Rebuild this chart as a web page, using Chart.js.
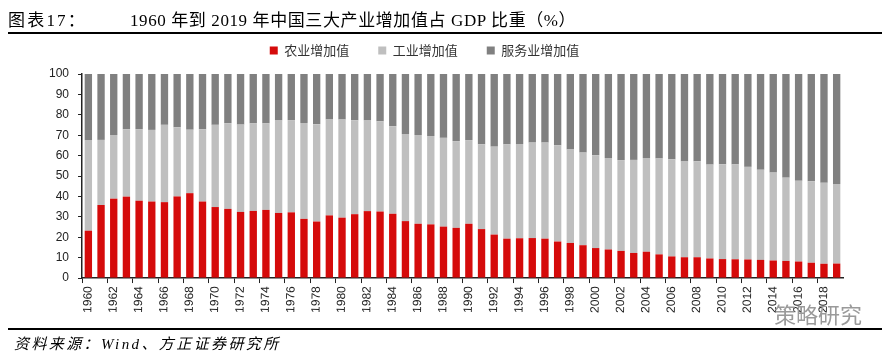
<!DOCTYPE html>
<html>
<head>
<meta charset="utf-8">
<script src="https://cdn.jsdelivr.net/npm/chart.js@4"></script>
<style>
  body { margin: 0; background: #fff; width: 893px; height: 351px; overflow: hidden; position: relative; }
  #wrap { position: absolute; left: 0; top: 0; width: 893px; height: 351px; }
  .title { position: absolute; top: 6px; left: 8px; font: 17px "Liberation Serif", "Noto Sans CJK SC", serif; color: #000; white-space: nowrap; }
  .title .lead { letter-spacing: 2.2px; }
  .title .main { position: absolute; left: 122px; letter-spacing: 0.6px; }
  .rule { position: absolute; left: 8px; width: 874px; height: 2px; background: #000; }
  .source { position: absolute; left: 14px; top: 332px; font: italic 15px "Liberation Serif", "Noto Sans CJK SC", serif; letter-spacing: 2.4px; color: #000; white-space: nowrap; }
  .mark { position: absolute; left: 774px; top: 297px; font: 22px "Noto Sans CJK SC", sans-serif; color: #9a9a9a; white-space: nowrap; }
</style>
</head>
<body>
<div id="wrap"><canvas id="shareChart" width="893" height="351"></canvas></div>
<div class="title"><span class="lead">图表17：</span><span class="main">1960 年到 2019 年中国三大产业增加值占 GDP 比重（%）</span></div>
<div class="rule" style="top:32px"></div>
<div class="rule" style="top:328px"></div>
<div class="source">资料来源：Wind、方正证券研究所</div>
<div class="mark">策略研究</div>
<script>
// 📅 Years and shares (% of GDP)
const years = [];
for (let y = 1960; y <= 2019; y++) years.push(String(y));

const agriShare = [23.2, 35.8, 38.9, 39.9, 37.9, 37.5, 37.2, 40.0, 41.6, 37.5,
  34.8, 33.9, 32.4, 32.9, 33.4, 31.9, 32.2, 29.0, 27.7, 30.7,
  29.6, 31.3, 32.8, 32.6, 31.5, 27.9, 26.6, 26.3, 25.2, 24.6,
  26.6, 24.0, 21.3, 19.3, 19.5, 19.6, 19.3, 17.9, 17.2, 16.1,
  14.7, 14.0, 13.3, 12.3, 12.9, 11.6, 10.6, 10.2, 10.2, 9.6,
  9.3, 9.2, 9.1, 8.9, 8.6, 8.4, 8.1, 7.5, 7.0, 7.1];

const industryShare = [44.4, 31.9, 31.2, 33.0, 35.1, 35.1, 37.9, 33.9, 31.1, 35.4,
  40.3, 42.0, 42.8, 42.9, 42.4, 45.5, 45.2, 47.0, 47.7, 47.0,
  48.1, 46.0, 44.6, 44.2, 42.9, 42.7, 43.5, 43.3, 43.5, 42.5,
  41.0, 41.5, 43.1, 46.2, 46.2, 46.8, 47.1, 47.1, 45.8, 45.4,
  45.5, 44.8, 44.5, 45.6, 45.9, 47.0, 47.6, 46.9, 47.0, 46.0,
  46.5, 46.5, 45.4, 44.2, 43.1, 40.8, 39.6, 39.9, 39.7, 39.0];

const serviceShare = [32.4, 32.3, 29.9, 27.1, 27.0, 27.4, 24.9, 26.1, 27.3, 27.1,
  24.9, 24.1, 24.8, 24.2, 24.2, 22.6, 22.6, 24.0, 24.6, 22.3,
  22.3, 22.7, 22.6, 23.2, 25.6, 29.4, 29.9, 30.4, 31.3, 32.9,
  32.4, 34.5, 35.6, 34.5, 34.3, 33.6, 33.6, 35.0, 37.0, 38.5,
  39.8, 41.2, 42.2, 42.1, 41.2, 41.4, 41.8, 42.9, 42.8, 44.4,
  44.2, 44.3, 45.5, 46.9, 48.3, 50.8, 52.3, 52.6, 53.3, 53.9];

const yTicks = [0, 10, 20, 30, 40, 50, 60, 70, 80, 90, 100];


// 🧩 Legend: extra room below it, and nudged a bit left
const legendTweak = {
  id: "legendTweak",
  beforeInit(chart) {
    const fit = chart.legend.fit;
    chart.legend.fit = function () {
      fit.bind(chart.legend)();
      this.height += 7;
    };
  },
  afterLayout(chart) {
    chart.legend.left -= 17;
    chart.legend.right -= 17;
  }
};


// 📊 Stacked bar chart
const ctx = document.getElementById("shareChart").getContext("2d");
const shareChart = new Chart(ctx, {
  type: "bar",
  data: {
    labels: years,
    datasets: [
      { label: "农业增加值", data: agriShare, backgroundColor: "#D50B0B" },
      { label: "工业增加值", data: industryShare, backgroundColor: "#BFBFBF" },
      { label: "服务业增加值", data: serviceShare, backgroundColor: "#808080" }
    ]
  },
  plugins: [legendTweak],
  options: {
    responsive: false,
    animation: false,
    datasets: { bar: { barPercentage: 0.58, categoryPercentage: 1.0 } },
    layout: { padding: { top: 15, left: 40, right: 50, bottom: 35 } },
    plugins: {
      tooltip: { enabled: false },
      legend: {
        position: "top",
        labels: {
          boxWidth: 8, boxHeight: 8, padding: 29,
          color: "#333",
          font: { family: "'Noto Sans CJK SC', sans-serif", size: 13 }
        }
      }
    },
    scales: {
      x: {
        stacked: true,
        border: { color: "#222", width: 1.5 },
        grid: {
          offset: true,
          drawOnChartArea: false,
          tickLength: 5,
          tickColor: (c) => (c.index % 2 === 0 ? "#222" : "rgba(0,0,0,0)")
        },
        ticks: {
          autoSkip: false,
          minRotation: 89,
          maxRotation: 90,
          color: "#222",
          font: { family: "'Liberation Sans', Arial", size: 12 },
          callback: (v, i) => (i % 2 === 0 ? years[i] : "")
        }
      },
      y: {
        stacked: true,
        min: 0, max: 100,
        border: { color: "#222", width: 1.5 },
        grid: { drawOnChartArea: false, tickLength: 4, tickColor: "#222" },
        afterBuildTicks: (axis) => { axis.ticks = yTicks.map(v => ({ value: v })); },
        ticks: {
          color: "#222",
          padding: 9,
          font: { family: "'Liberation Sans', Arial", size: 12 }
        }
      }
    }
  }
});
</script>
</body>
</html>
